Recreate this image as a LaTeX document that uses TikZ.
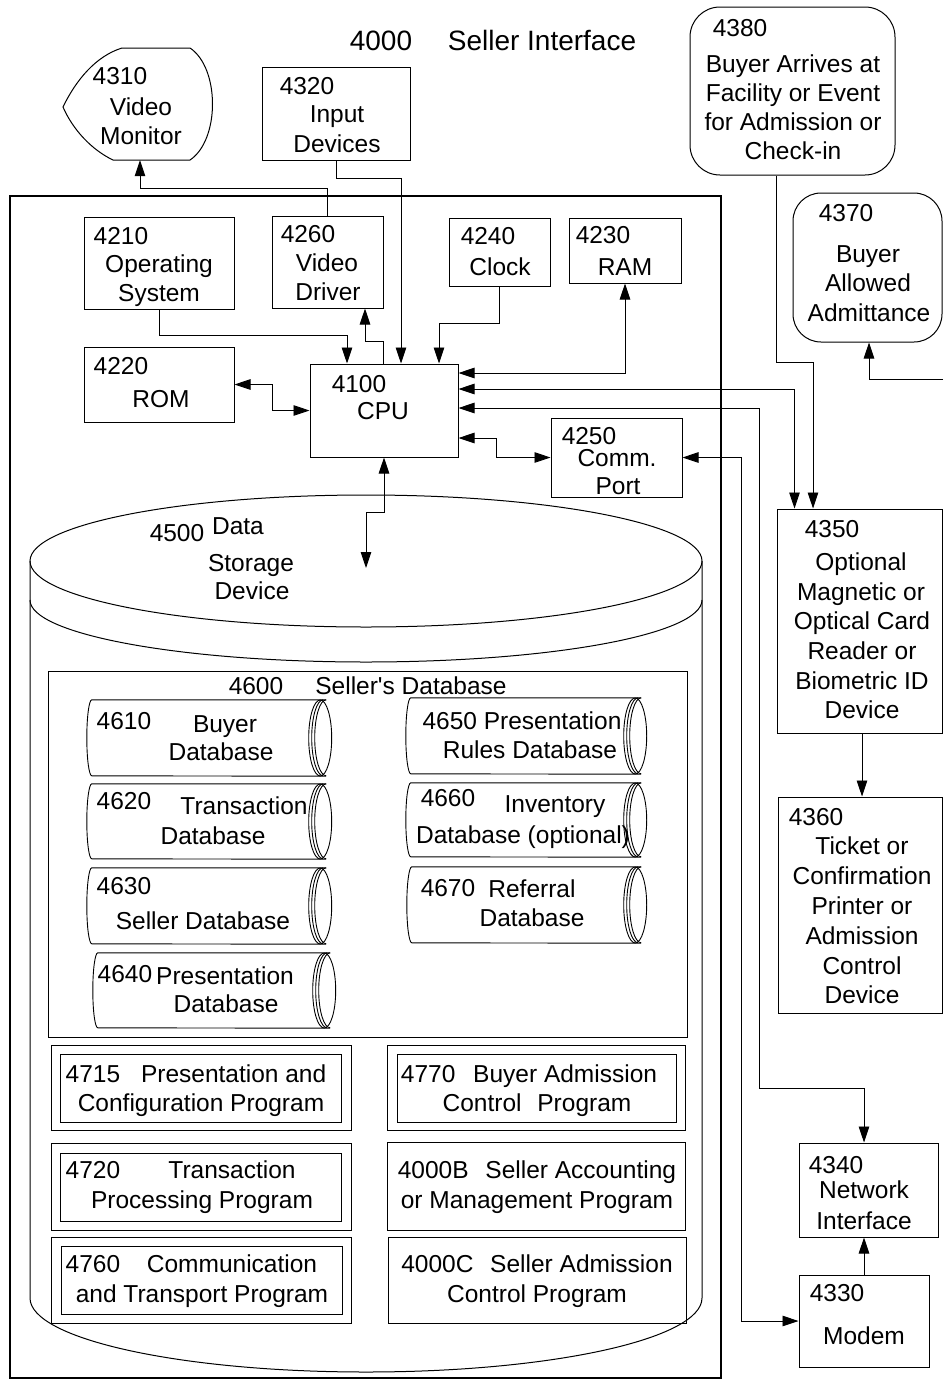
\documentclass[tikz,border=0pt]{standalone}
\usepackage{fontspec}
\setmainfont{Liberation Sans}
\usetikzlibrary{arrows.meta}
\newcommand\fs{\fontsize{24.5}{29.5}\selectfont}
\newcommand\mybox[6][]{%
  \pgfmathsetmacro\bxW{#5-#3}\pgfmathsetmacro\bxH{#6-#4}%
  \pgfmathsetmacro\bxX{(#3+#5)/2}\pgfmathsetmacro\bxY{(#4+#6)/2}%
  \node[box,minimum width=\bxW pt,minimum height=\bxH pt,#1] (#2) at (\bxX,\bxY) {};}
\newcommand\mycyl[5]{%
  \pgfmathsetmacro\dcW{#4-#2}\pgfmathsetmacro\dcH{#5-#3}%
  \pgfmathsetmacro\dcX{(#2+#4)/2}\pgfmathsetmacro\dcY{(#3+#5)/2}%
  \pgfmathsetmacro\dcR{(#5-#3)/2}%
  \node[minimum width=\dcW pt,minimum height=\dcH pt,inner sep=0pt] (#1) at (\dcX,\dcY) {};
  \draw[cyl] ([xshift=-6pt]#1.north east) -- ([xshift=5pt]#1.north west)
     arc[start angle=90,end angle=270,x radius=5pt,y radius=\dcR pt]
     -- ([xshift=-6pt]#1.south east);
  \draw[cyl] ([xshift=-12pt]#1.east) ellipse[x radius=11.5pt,y radius=\dcR pt];
  \draw[cyl] ([xshift=-9pt]#1.north east) arc[start angle=90,end angle=270,x radius=11.5pt,y radius=\dcR pt];
  \draw[cyl] ([xshift=-6pt]#1.north east) arc[start angle=90,end angle=270,x radius=11.5pt,y radius=\dcR pt];
}
\begin{document}
\begin{tikzpicture}[x=1pt,y=-1pt,
  box/.style={draw,line width=1pt,inner sep=0pt},
  cyl/.style={line width=0.9pt},
  conn/.style={line width=0.9pt},
  arr/.style={conn,-{Triangle[length=16pt,width=10.5pt]}},
  darr/.style={conn,{Triangle[length=16pt,width=10.5pt]}-{Triangle[length=16pt,width=10.5pt]}},
  txt/.style={anchor=base,inner sep=0pt,font=\fs},
  ttl/.style={anchor=base,inner sep=0pt,font=\fontsize{28}{34}\selectfont}]
\path[use as bounding box,fill=white] (0,0) rectangle (943,1382);

% title
\node[ttl] (tnum) at (381,50) {4000};
\node[ttl] (ttitle) at (542,50) {Seller Interface};

% container
\mybox[line width=1.6pt]{cont}{10}{196}{721}{1378}

% video monitor
\node[inner sep=0pt,minimum width=150pt,minimum height=112pt] (vm) at (138,104) {};
\draw[line width=1pt] (63,107) .. controls (76,80) and (96,56) .. (122,48) -- (190,48)
  .. controls (220,68) and (220,140) .. (190,160) -- (113,160)
  .. controls (92,150) and (73,130) .. (63,107) -- cycle;
\node[txt] (t4310) at (120,84) {4310};
\node[txt] (t4310a) at (141,115) {Video};
\node[txt] (t4310b) at (141,144) {Monitor};

% input devices
\mybox{inp}{262}{67}{410}{160}
\node[txt] (t4320) at (307,94) {4320};
\node[txt] (t4320a) at (337,122) {Input};
\node[txt] (t4320b) at (337,152) {Devices};

% 4380
\mybox[rounded corners=30pt]{b4380}{690}{7}{895}{175}
\node[txt] (t4380) at (740,36) {4380};
\node[txt] (t4380a) at (793,72) {Buyer Arrives at};
\node[txt] (t4380b) at (793,101) {Facility or Event};
\node[txt] (t4380c) at (793,130) {for Admission or};
\node[txt] (t4380d) at (793,159) {Check-in};

% 4370
\mybox[rounded corners=28pt]{b4370}{793}{193}{942}{342}
\node[txt] (t4370) at (846,221) {4370};
\node[txt] (t4370a) at (868,262) {Buyer};
\node[txt] (t4370b) at (868,291) {Allowed};
\node[txt] (t4370c) at (869,321) {Admittance};

% inner components
\mybox{os}{84}{217}{234}{309}
\node[txt] (t4210) at (121,244) {4210};
\node[txt] (t4210a) at (159,272) {Operating};
\node[txt] (t4210b) at (159,301) {System};

\mybox{vd}{272}{216}{383}{308}
\node[txt] (t4260) at (308,242) {4260};
\node[txt] (t4260a) at (327,271) {Video};
\node[txt] (t4260b) at (328,300) {Driver};

\mybox{clk}{449}{218}{550}{286}
\node[txt] (t4240) at (488,244) {4240};
\node[txt] (t4240a) at (500,275) {Clock};

\mybox{ram}{569}{218}{681}{283}
\node[txt] (t4230) at (603,243) {4230};
\node[txt] (t4230a) at (625,275) {RAM};

\mybox{rom}{84}{347}{234}{422}
\node[txt] (t4220) at (121,374) {4220};
\node[txt] (t4220a) at (161,407) {ROM};

\mybox{cpu}{310}{364}{458}{457}
\node[txt] (t4100) at (359,392) {4100};
\node[txt] (t4100a) at (383,419) {CPU};

\mybox{com}{551}{418}{682}{497}
\node[txt] (t4250) at (589,444) {4250};
\node[txt] (t4250a) at (617,466) {Comm.};
\node[txt] (t4250b) at (618,494) {Port};

% data storage cylinder
\draw[line width=1pt] (366,561) ellipse[x radius=336pt,y radius=66pt];
\draw[line width=1pt] (30,600) arc[start angle=180,end angle=360,x radius=336pt,y radius=62pt];
\draw[line width=1pt] (30,561) -- (30,1298) arc[start angle=180,end angle=360,x radius=336pt,y radius=74pt] -- (702,561);
\coordinate (dsend) at (366,568);
\node[txt] (t4500) at (177,541) {4500};
\node[txt] (t4500a) at (238,534) {Data};
\node[txt] (t4500b) at (251,571) {Storage};
\node[txt] (t4500c) at (252,599) {Device};

% seller database
\mybox{sdb}{48}{671}{687}{1037}
\node[txt] (t4600) at (256,694) {4600};
\node[txt] (t4600a) at (411,694) {Seller\textquotesingle s Database};

\mycyl{c4610}{87}{700}{332}{776}
\node[txt] (t4610) at (124,729) {4610};
\node[txt] (t4610a) at (225,732) {Buyer};
\node[txt] (t4610b) at (221,760) {Database};

\mycyl{c4620}{87}{784}{332}{859}
\node[txt] (t4620) at (124,809) {4620};
\node[txt] (t4620a) at (244,814) {Transaction};
\node[txt] (t4620b) at (213,844) {Database};

\mycyl{c4630}{87}{868}{332}{944}
\node[txt] (t4630) at (124,894) {4630};
\node[txt] (t4630a) at (203,929) {Seller Database};

\mycyl{c4640}{93}{953}{336}{1028}
\node[txt] (t4640) at (125,982) {4640};
\node[txt] (t4640a) at (225,984) {Presentation};
\node[txt] (t4640b) at (226,1012) {Database};

\mycyl{c4650}{406}{698}{647}{774}
\node[txt] (t4650) at (522,729) {4650 Presentation};
\node[txt] (t4650a) at (530,758) {Rules Database};

\mycyl{c4660}{406}{783}{647}{857}
\node[txt] (t4660) at (448,806) {4660};
\node[txt] (t4660a) at (555,812) {Inventory};
\node[txt] (t4660b) at (523,843) {Database (optional)};

\mycyl{c4670}{407}{867}{647}{943}
\node[txt] (t4670) at (448,896) {4670};
\node[txt] (t4670a) at (532,897) {Referral};
\node[txt] (t4670b) at (532,926) {Database};

% programs
\mybox{p4715}{51}{1045}{351}{1130}
\mybox{p4715i}{60}{1054}{341}{1122}
\node[txt] (t4715) at (196,1082) {4715\hspace{14pt} Presentation and};
\node[txt] (t4715a) at (201,1111) {Configuration Program};

\mybox{p4770}{387}{1045}{685}{1130}
\mybox{p4770i}{397}{1054}{676}{1122}
\node[txt] (t4770) at (529,1082) {4770\hspace{11pt} Buyer Admission};
\node[txt] (t4770a) at (537,1111) {Control\hspace{9pt} Program};

\mybox{p4720}{51}{1143}{351}{1230}
\mybox{p4720i}{60}{1153}{341}{1221}
\node[txt] (t4720) at (93,1178) {4720};
\node[txt] (t4720a) at (232,1178) {Transaction};
\node[txt] (t4720b) at (202,1208) {Processing Program};

\mybox{p4000b}{387}{1142}{685}{1230}
\node[txt] (t4000b) at (537,1178) {4000B\hspace{10pt} Seller Accounting};
\node[txt] (t4000ba) at (537,1208) {or Management Program};

\mybox{p4760}{51}{1237}{351}{1323}
\mybox{p4760i}{61}{1246}{342}{1314}
\node[txt] (t4760) at (93,1272) {4760};
\node[txt] (t4760a) at (232,1272) {Communication};
\node[txt] (t4760b) at (202,1302) {and Transport Program};

\mybox{p4000c}{388}{1237}{686}{1323}
\node[txt] (t4000c) at (537,1272) {4000C\hspace{10pt} Seller Admission};
\node[txt] (t4000ca) at (537,1302) {Control Program};

% right column
\mybox{b4350}{777}{509}{942}{733}
\node[txt] (t4350) at (832,537) {4350};
\node[txt] (t4350a) at (861,570) {Optional};
\node[txt] (t4350b) at (861,600) {Magnetic or};
\node[txt] (t4350c) at (862,629) {Optical Card};
\node[txt] (t4350d) at (862,659) {Reader or};
\node[txt] (t4350e) at (862,689) {Biometric ID};
\node[txt] (t4350f) at (862,718) {Device};

\mybox{b4360}{778}{797}{942}{1013}
\node[txt] (t4360) at (816,825) {4360};
\node[txt] (t4360a) at (862,854) {Ticket or};
\node[txt] (t4360b) at (862,884) {Confirmation};
\node[txt] (t4360c) at (862,914) {Printer or};
\node[txt] (t4360d) at (862,944) {Admission};
\node[txt] (t4360e) at (862,974) {Control};
\node[txt] (t4360f) at (862,1003) {Device};

\mybox{b4340}{799}{1143}{938}{1237}
\node[txt] (t4340) at (836,1173) {4340};
\node[txt] (t4340a) at (864,1198) {Network};
\node[txt] (t4340b) at (864,1229) {Interface};

\mybox{modem}{799}{1275}{929}{1367}
\node[txt] (t4330) at (837,1301) {4330};
\node[txt] (t4330a) at (864,1344) {Modem};

\coordinate (redge) at (943,379);

% connectors
\draw[arr] (inp.south) -- ++(0,18) -| ([xshift=17pt]cpu.north);
\draw[arr] (vd.north) -- ++(0,-27) -| ([xshift=2pt]vm.south);
\draw[arr] (os.south) -- ++(0,26) -| ([xshift=-37pt]cpu.north);
\draw[arr] ([xshift=-1pt]cpu.north) -- ++(0,-22) -| ([xshift=37.5pt]vd.south);
\draw[arr] (clk.south) -- ++(0,37) -| ([xshift=55pt]cpu.north);
\draw[darr] ([yshift=37.5pt]cpu.east) -| (ram.south);
\draw[darr] (rom.east) -- ++(38,0) |- (cpu.west);
\draw[darr] ([yshift=-27.5pt]cpu.east) -- ++(38,0) |- (com.west);
\draw[darr] ([yshift=21.5pt]cpu.east) -| ([xshift=-65pt]b4350.north);
\draw[darr] ([yshift=2.5pt]cpu.east) -- ++(301,0) -- ++(0,680) -| ([xshift=-4.5pt]b4340.north);
\draw[darr] (com.east) -- ++(59,0) |- (modem.west);
\draw[darr] (cpu.south) -- ++(0,55) -| (dsend);
\draw[arr] ([xshift=-16.5pt]b4380.south) -- ++(0,187) -| ([xshift=-46.5pt]b4350.north);
\draw[arr] (redge) -| ([xshift=1.5pt]b4370.south);
\draw[arr] ([xshift=2.5pt]b4350.south) -- ([xshift=2pt]b4360.north);
\draw[arr] (modem.north) -- ([xshift=-4.5pt]b4340.south);
\end{tikzpicture}
\end{document}
